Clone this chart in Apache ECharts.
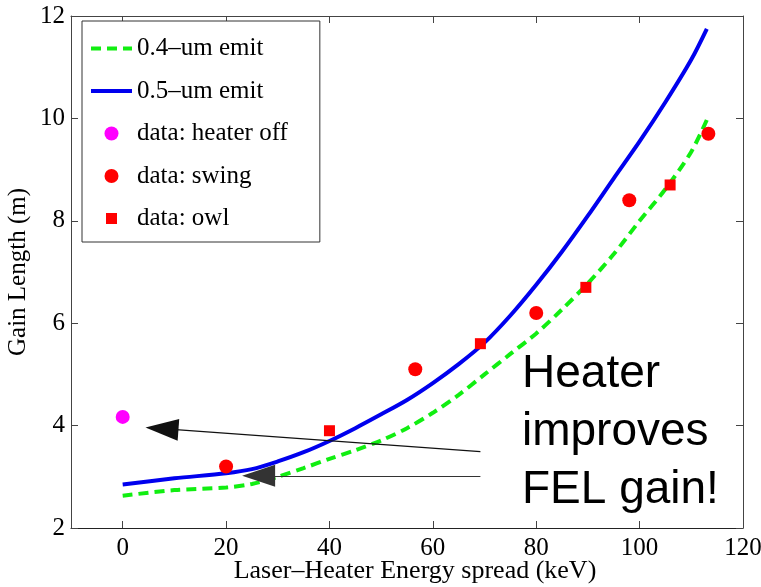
<!DOCTYPE html>
<html>
<head>
<meta charset="utf-8">
<script src="https://cdn.jsdelivr.net/npm/echarts@6/dist/echarts.min.js"></script>
<style>
  html, body { margin: 0; padding: 0; background: #fff; }
  #chart { width: 761px; height: 587px; }
</style>
</head>
<body>
<div id="chart"></div>
<script>
// theory curves
const emit04 = [
  [0, 2.63], [10, 2.74], [20, 2.79], [25, 2.86], [30, 3.0], [35, 3.17],
  [40, 3.35], [45, 3.52], [50, 3.71], [55, 3.95], [60, 4.25], [65, 4.6],
  [70, 5.0], [75, 5.4], [80, 5.8], [85, 6.27], [90, 6.78], [95, 7.35],
  [100, 8.0], [105, 8.62], [110, 9.35], [113, 9.97],
];
const emit05 = [
  [0, 2.85], [10, 2.97], [20, 3.07], [25, 3.15], [30, 3.3], [35, 3.48],
  [40, 3.7], [45, 3.95], [50, 4.22], [55, 4.5], [60, 4.83], [65, 5.2],
  [70, 5.62], [75, 6.15], [80, 6.75], [85, 7.4], [90, 8.1], [95, 8.83],
  [100, 9.55], [105, 10.32], [110, 11.15], [113, 11.75],
];

// measurements
const heaterOff = [[0, 4.17]];
const swing = [[20, 3.2], [56.6, 5.1], [80, 6.2], [98, 8.4], [113.3, 9.7]];
const owl = [[40, 3.9], [69.2, 5.6], [89.6, 6.7], [105.9, 8.7]];

// arrows: [from, to]
const arrowTop = [[69.2, 3.49], [7.6, 3.94]];
const arrowLow = [[69.2, 3.02], [26.3, 3.02]];

const xTicks = [0, 20, 40, 60, 80, 100, 120];
const serif = "Liberation Serif";

const chart = echarts.init(document.getElementById("chart"));

function arrowLine(pts, color) {
  return [
    { coord: pts[0], lineStyle: { color: color, width: 1.2, type: "solid" } },
    { coord: pts[1] },
  ];
}

const hideDot = { opacity: 0 };
const squareIcon = "path://M0,0L0,0M41,14L41,14M15,1.5L26,1.5L26,12.5L15,12.5Z";

const options = {
  animation: false,
  backgroundColor: "#fff",
  grid: { left: 71, right: 18, top: 16, bottom: 59, outerBoundsMode: "none" },
  legend: {
    orient: "vertical",
    left: 82,
    top: 21,
    padding: [15, 32, 11, 7],
    itemGap: 17.5,
    itemWidth: 41,
    itemHeight: 14,
    borderColor: "#333",
    borderWidth: 1,
    backgroundColor: "#fff",
    textStyle: { fontFamily: serif, fontSize: 25, color: "#000" },
    data: [
      { name: "0.4–um emit", itemStyle: hideDot, lineStyle: { width: 4 } },
      { name: "0.5–um emit", itemStyle: hideDot, lineStyle: { width: 4 } },
      { name: "data: heater off" },
      { name: "data: swing" },
      { name: "data: owl", icon: squareIcon },
    ],
  },
  xAxis: [
    {
      type: "value",
      min: -10,
      max: 120,
      name: "Laser–Heater Energy spread (keV)",
      nameLocation: "middle",
      nameGap: 30,
      nameMoveOverlap: false,
      nameTextStyle: { fontFamily: serif, fontSize: 26, color: "#000", padding: [0, 0, 0, 16] },
      axisLine: { onZero: false, lineStyle: { color: "#222", width: 1 } },
      axisTick: { inside: true, length: 7, customValues: xTicks, lineStyle: { color: "#444" } },
      axisLabel: {
        customValues: xTicks,
        margin: 8,
        fontFamily: serif,
        fontSize: 25,
        color: "#000",
      },
      splitLine: { show: false },
    },
    {
      type: "value",
      position: "top",
      min: -10,
      max: 120,
      axisLine: { onZero: false, lineStyle: { color: "#444", width: 1 } },
      axisTick: { inside: true, length: 7, customValues: xTicks, lineStyle: { color: "#444" } },
      axisLabel: { show: false },
      splitLine: { show: false },
    },
  ],
  yAxis: [
    {
      type: "value",
      min: 2,
      max: 12,
      interval: 2,
      name: "Gain Length (m)",
      nameLocation: "middle",
      nameGap: 40,
      nameMoveOverlap: false,
      nameTextStyle: { fontFamily: serif, fontSize: 25, color: "#000" },
      axisLine: { show: true, onZero: false, lineStyle: { color: "#444", width: 1 } },
      axisTick: { show: true, inside: true, length: 7, lineStyle: { color: "#444" } },
      axisLabel: { margin: 6, fontFamily: serif, fontSize: 25, color: "#000" },
      splitLine: { show: false },
    },
    {
      type: "value",
      position: "right",
      min: 2,
      max: 12,
      interval: 2,
      axisLine: { show: true, onZero: false, lineStyle: { color: "#444", width: 1 } },
      axisTick: { show: true, inside: true, length: 7, lineStyle: { color: "#444" } },
      axisLabel: { show: false },
      splitLine: { show: false },
    },
  ],
  series: [
    {
      name: "0.4–um emit",
      type: "line",
      data: emit04,
      symbol: "none",
      smooth: 0.3,
      color: "#11ee11",
      lineStyle: { width: 4, type: [10, 6], color: "#11ee11" },
      z: 2,
    },
    {
      name: "0.5–um emit",
      type: "line",
      data: emit05,
      symbol: "none",
      smooth: 0.3,
      color: "#0000ee",
      lineStyle: { width: 4, color: "#0000ee" },
      z: 3,
      markLine: {
        silent: true,
        symbol: ["none", "triangle"],
        symbolSize: [22, 33],
        label: { show: false },
        z: 10,
        data: [arrowLine(arrowTop, "#111"), arrowLine(arrowLow, "#333")],
      },
    },
    {
      name: "data: heater off",
      type: "scatter",
      data: heaterOff,
      symbol: "circle",
      symbolSize: 14,
      itemStyle: { color: "#ff00ff", opacity: 1 },
      z: 5,
    },
    {
      name: "data: swing",
      type: "scatter",
      data: swing,
      symbol: "circle",
      symbolSize: 14,
      itemStyle: { color: "#ff0000", opacity: 1 },
      z: 5,
    },
    {
      name: "data: owl",
      type: "scatter",
      data: owl,
      symbol: "rect",
      symbolSize: 11,
      itemStyle: { color: "#ff0000", opacity: 1 },
      z: 5,
    },
  ],
  graphic: [
    {
      type: "text",
      left: 522,
      top: 345,
      z: 20,
      style: {
        text: "Heater\nimproves\nFEL gain!",
        font: "46px 'Liberation Sans'",
        lineHeight: 58,
        fill: "#000",
      },
    },
  ],
};

chart.setOption(options);
</script>
</body>
</html>
